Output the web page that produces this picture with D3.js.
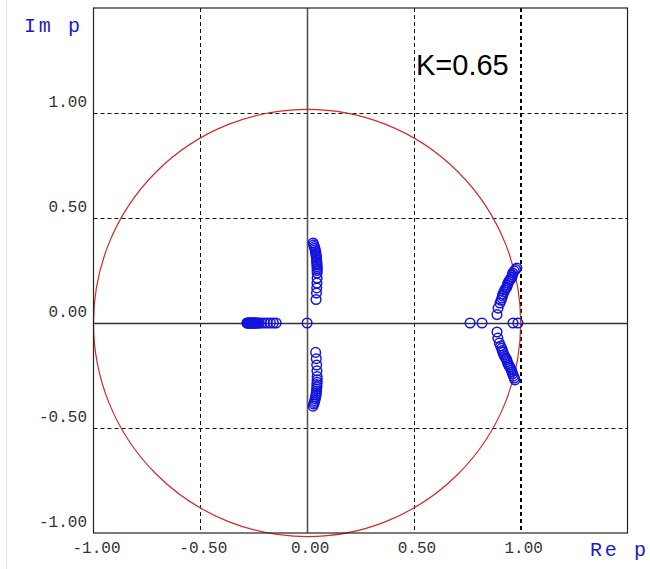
<!DOCTYPE html>
<html>
<head>
<meta charset="utf-8">
<script src="https://cdn.jsdelivr.net/npm/d3@7"></script>
<style>
  body { margin: 0; background: white; }
  .tick-label { font-family: "Liberation Mono", "Courier New", monospace; font-size: 16px; fill: #333; }
  .axis-name { font-family: "Liberation Mono", "Courier New", monospace; font-size: 20px; fill: #1a1ad0; }
</style>
</head>
<body>
<div id="graf"></div>
<script>
// Polos sobre el eje real
const realPoles = [
  -0.282, -0.279, -0.276, -0.273, -0.270, -0.267, -0.264, -0.261, -0.258, -0.255,
  -0.252, -0.249, -0.246, -0.243, -0.240, -0.236, -0.231, -0.224, -0.214, -0.200,
  -0.186, -0.172, -0.158, -0.145,
  0.0,
  0.763, 0.819, 0.964, 0.987
]

// Rama cerca del eje imaginario (superior e inferior)
const imagUpper = [
  [0.028, 0.381], [0.031, 0.372], [0.034, 0.364], [0.036, 0.356], [0.038, 0.348],
  [0.040, 0.340], [0.041, 0.332], [0.042, 0.324], [0.043, 0.316], [0.044, 0.308],
  [0.045, 0.300], [0.045, 0.292], [0.046, 0.284], [0.046, 0.276], [0.047, 0.268],
  [0.047, 0.259], [0.047, 0.250], [0.047, 0.238], [0.047, 0.214], [0.046, 0.190],
  [0.045, 0.167], [0.044, 0.143], [0.042, 0.112]
]

const imagLower = [
  [0.040, -0.140], [0.043, -0.170], [0.045, -0.200], [0.046, -0.228], [0.047, -0.255],
  [0.047, -0.270], [0.047, -0.282], [0.046, -0.293], [0.046, -0.304], [0.045, -0.314],
  [0.044, -0.324], [0.043, -0.334], [0.042, -0.343], [0.040, -0.352], [0.038, -0.361],
  [0.036, -0.370], [0.034, -0.378], [0.031, -0.386], [0.028, -0.396]
]

// Rama cerca de z = 1 (superior e inferior)
const rightUpper = [
  [0.889, 0.040], [0.894, 0.071], [0.903, 0.095], [0.908, 0.108], [0.912, 0.119],
  [0.915, 0.129], [0.917, 0.138], [0.922, 0.148], [0.926, 0.157], [0.931, 0.165],
  [0.935, 0.171], [0.938, 0.181], [0.940, 0.190], [0.945, 0.198], [0.949, 0.205],
  [0.954, 0.212], [0.959, 0.219], [0.961, 0.229], [0.963, 0.238], [0.970, 0.247],
  [0.976, 0.255], [0.982, 0.262]
]

const rightLower = [
  [0.889, -0.043], [0.893, -0.072], [0.900, -0.096], [0.906, -0.110], [0.911, -0.121],
  [0.914, -0.131], [0.917, -0.140], [0.921, -0.150], [0.925, -0.159], [0.930, -0.167],
  [0.934, -0.174], [0.937, -0.184], [0.940, -0.193], [0.944, -0.201], [0.948, -0.208],
  [0.952, -0.216], [0.956, -0.224], [0.959, -0.233], [0.962, -0.242], [0.966, -0.252],
  [0.970, -0.262], [0.973, -0.271]
]

// Marcas de los ejes
const xTicks = [-1.0, -0.5, 0.0, 0.5, 1.0]
const yTicks = [1.0, 0.5, 0.0, -0.5, -1.0]
const gridX = [-0.5, 0.5]
const gridY = [-0.5, 0.5, 1.0]
const gainLabel = 'K=0.65'

const ancho = 650
const alto = 569

const svg = d3.select('#graf')
  .append('svg')
  .attr('width', ancho)
  .attr('height', alto)

// Escaladores
const x = d3.scaleLinear().domain([-1, 1.5]).range([93.5, 627.5])
const y = d3.scaleLinear().domain([-1, 1.5]).range([533, 8])

// Borde exterior tenue
svg.append('line')
  .attr('x1', 6.5).attr('x2', 6.5)
  .attr('y1', 0).attr('y2', alto)
  .attr('stroke', '#e2e2e2')

// Rejilla punteada
svg.selectAll('.gridx')
  .data(gridX)
  .enter()
  .append('line')
  .attr('class', 'gridx')
  .attr('x1', (d) => Math.round(x(d)) + 0.5)
  .attr('x2', (d) => Math.round(x(d)) + 0.5)
  .attr('y1', y(1.5))
  .attr('y2', y(-1))
  .attr('stroke', '#111')
  .attr('stroke-dasharray', '4,3')

svg.selectAll('.gridy')
  .data(gridY)
  .enter()
  .append('line')
  .attr('class', 'gridy')
  .attr('x1', x(-1))
  .attr('x2', x(1.5))
  .attr('y1', (d) => Math.round(y(d)) + 0.5)
  .attr('y2', (d) => Math.round(y(d)) + 0.5)
  .attr('stroke', '#111')
  .attr('stroke-dasharray', '4,3')

// Linea de z = 1 mas gruesa
svg.append('line')
  .attr('x1', Math.round(x(1)))
  .attr('x2', Math.round(x(1)))
  .attr('y1', y(1.5))
  .attr('y2', y(-1))
  .attr('stroke', '#000')
  .attr('stroke-width', 2)
  .attr('stroke-dasharray', '4,3')

// Ejes
svg.append('line')
  .attr('x1', x(-1)).attr('x2', x(1.5))
  .attr('y1', Math.round(y(0)) + 0.5).attr('y2', Math.round(y(0)) + 0.5)
  .attr('stroke', '#333')
  .attr('stroke-width', 1.3)

svg.append('line')
  .attr('x1', Math.round(x(0)) + 0.5).attr('x2', Math.round(x(0)) + 0.5)
  .attr('y1', y(1.5)).attr('y2', y(-1))
  .attr('stroke', '#555')
  .attr('stroke-width', 1.6)

// Circulo unitario
svg.append('circle')
  .attr('cx', x(0))
  .attr('cy', y(0))
  .attr('r', x(1) - x(0))
  .attr('fill', 'none')
  .attr('stroke', '#d42a2a')
  .attr('stroke-width', 1.2)

// Polos
const allPoles = realPoles.map((d) => [d, 0])
  .concat(imagUpper, imagLower, rightUpper, rightLower)

svg.selectAll('.pole')
  .data(allPoles)
  .enter()
  .append('circle')
  .attr('class', 'pole')
  .attr('cx', (d) => x(d[0]))
  .attr('cy', (d) => y(d[1]))
  .attr('r', 4.8)
  .attr('fill', 'none')
  .attr('stroke', '#1414e0')
  .attr('stroke-width', 1.5)

// Marco de la grafica
svg.append('rect')
  .attr('x', x(-1))
  .attr('y', y(1.5))
  .attr('width', x(1.5) - x(-1))
  .attr('height', y(-1) - y(1.5))
  .attr('fill', 'none')
  .attr('stroke', '#222')
  .attr('stroke-width', 1.2)

// Etiquetas de ejes
svg.selectAll('.ylab')
  .data(yTicks)
  .enter()
  .append('text')
  .attr('class', 'tick-label')
  .attr('x', 87)
  .attr('y', (d) => y(d) - 6)
  .attr('text-anchor', 'end')
  .text((d) => d3.format('.2f')(d).replace('−', '-'))

svg.selectAll('.xlab')
  .data(xTicks)
  .enter()
  .append('text')
  .attr('class', 'tick-label')
  .attr('x', (d) => x(d) + 3)
  .attr('y', 553)
  .attr('text-anchor', 'middle')
  .text((d) => d3.format('.2f')(d).replace('−', '-'))

svg.append('text')
  .attr('class', 'axis-name')
  .attr('x', 24)
  .attr('y', 32)
  .attr('textLength', 56)
  .text('Im p')

svg.append('text')
  .attr('class', 'axis-name')
  .attr('x', 590)
  .attr('y', 556)
  .attr('textLength', 56)
  .text('Re p')

// Ganancia
svg.append('text')
  .attr('x', 416)
  .attr('y', 75)
  .attr('font-family', 'Liberation Sans, Arial, sans-serif')
  .attr('font-size', 29)
  .attr('fill', '#000')
  .text(gainLabel)
</script>
</body>
</html>
